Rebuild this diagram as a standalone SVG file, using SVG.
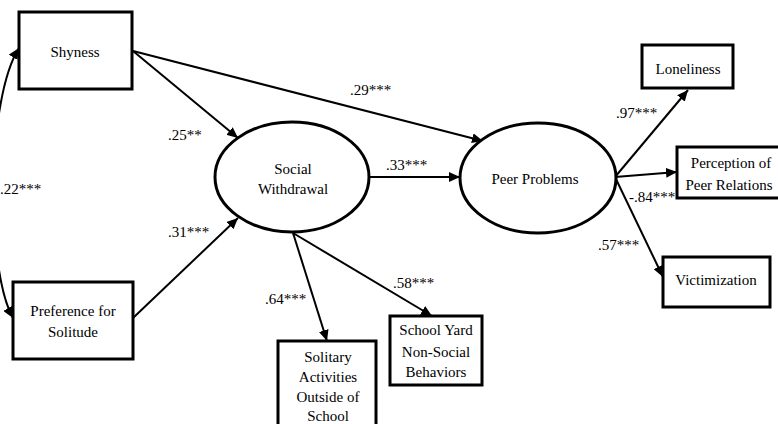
<svg xmlns="http://www.w3.org/2000/svg" width="778" height="424" viewBox="0 0 778 424" font-family="'Liberation Serif', 'DejaVu Serif', serif" font-size="15">
<style>
.n text{text-anchor:middle}
.box{fill:#fff;stroke:#000;stroke-width:3}
.ell{fill:#fff;stroke:#000;stroke-width:3}
.c path{fill:none;stroke:#000;stroke-width:2;marker-end:url(#ah)}
</style>
<defs>
<marker id="ah" markerUnits="userSpaceOnUse" markerWidth="12" markerHeight="10" refX="11" refY="5" orient="auto-start-reverse">
<path d="M0,0 L11,5 L0,10 z" fill="#000"/>
</marker>
</defs>
<rect width="778" height="424" fill="#fff"/>
<g id="connectors" class="c">
<path d="M133,51 L238,138"/>
<path d="M133,51 L483,141"/>
<path d="M133,318 L238,218"/>
<path d="M370,177 L460,177"/>
<path d="M293,233 L327,341"/>
<path d="M293,233 L432,316"/>
<path d="M615,177 L688,90"/>
<path d="M615,177 L677,172"/>
<path d="M615,177 L663,277"/>
<path d="M19,48 C -14,100 -14,270 13,318" style="marker-start:url(#ah)"/>
</g>
<g id="labels">
<text x="168" y="140">.25**</text>
<text x="0" y="194">.22***</text>
<text x="168" y="237">.31***</text>
<text x="350" y="95">.29***</text>
<text x="386" y="170">.33***</text>
<text x="265" y="304">.64***</text>
<text x="393" y="288">.58***</text>
<text x="616" y="118">.97***</text>
<text x="629" y="202">-.84***</text>
<text x="598" y="250">.57***</text>
</g>
<g id="shyness" class="n">
<rect class="box" x="19" y="12" width="113" height="77"/>
<text x="75" y="57">Shyness</text>
</g>
<g id="preference" class="n">
<rect class="box" x="13" y="282" width="120" height="77"/>
<text x="73" y="316">Preference for</text>
<text x="73" y="337">Solitude</text>
</g>
<g id="social-withdrawal" class="n">
<ellipse class="ell" cx="292" cy="177" rx="77" ry="55"/>
<text x="293" y="174">Social</text>
<text x="293" y="194">Withdrawal</text>
</g>
<g id="peer-problems" class="n">
<ellipse class="ell" cx="538" cy="178" rx="78" ry="55"/>
<text x="535" y="184">Peer Problems</text>
</g>
<g id="loneliness" class="n">
<rect class="box" x="642" y="45" width="91" height="43"/>
<text x="688" y="74">Loneliness</text>
</g>
<g id="perception" class="n">
<rect class="box" x="677" y="147" width="110" height="51"/>
<text x="731" y="168">Perception of</text>
<text x="729" y="190">Peer Relations</text>
</g>
<g id="victimization" class="n">
<rect class="box" x="663" y="257" width="107" height="50"/>
<text x="716" y="285">Victimization</text>
</g>
<g id="solitary" class="n">
<rect class="box" x="278" y="341" width="98" height="100"/>
<text x="328" y="362">Solitary</text>
<text x="328" y="382">Activities</text>
<text x="328" y="402">Outside of</text>
<text x="328" y="421">School</text>
</g>
<g id="schoolyard" class="n">
<rect class="box" x="390" y="316" width="92" height="69"/>
<text x="436" y="335">School Yard</text>
<text x="436" y="357">Non-Social</text>
<text x="436" y="377">Behaviors</text>
</g>
</svg>
